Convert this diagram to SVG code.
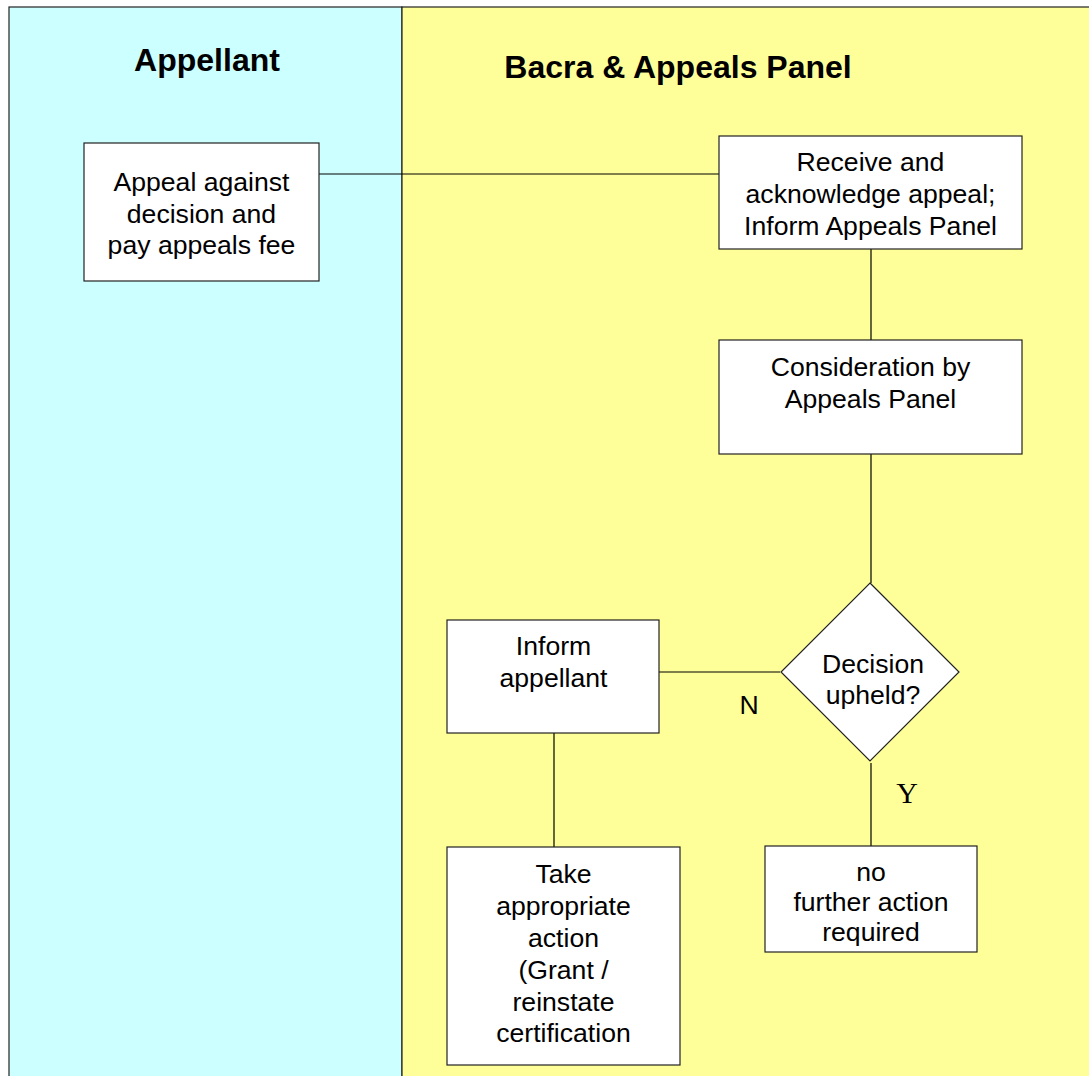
<svg xmlns="http://www.w3.org/2000/svg" width="1089" height="1076" viewBox="0 0 1089 1076">
<style>
.box{fill:#fff;stroke:#222;stroke-width:1.2}
.t{font-family:"Liberation Sans",Arial,sans-serif;font-size:26.6px;fill:#000;text-anchor:middle}
.h{font-family:"Liberation Sans",Arial,sans-serif;font-size:32px;font-weight:bold;fill:#000;text-anchor:middle}
.c{fill:none;stroke:#000;stroke-width:1.2}
</style>
<g id="lanes">
<rect x="9" y="7" width="393" height="1100" fill="#CCFFFF" stroke="#222" stroke-width="1.2"/>
<rect x="402" y="7" width="700" height="1100" fill="#FFFF99" stroke="#222" stroke-width="1.2"/>
<text class="h" x="207" y="71">Appellant</text>
<text class="h" x="678" y="78">Bacra &amp; Appeals Panel</text>
</g>
<g id="connectors">
<line class="c" x1="319" y1="174" x2="719" y2="174"/>
<line class="c" x1="871" y1="249" x2="871" y2="340"/>
<line class="c" x1="871" y1="454" x2="871" y2="583"/>
<line class="c" x1="659" y1="672" x2="780" y2="672"/>
<line class="c" x1="554" y1="733" x2="554" y2="847"/>
<line class="c" x1="871" y1="763" x2="871" y2="846"/>
<text class="t" x="749" y="714">N</text>
<text x="907" y="803" font-family="'Liberation Serif','Times New Roman',serif" font-size="30" text-anchor="middle">Y</text>
</g>
<g id="appeal">
<rect class="box" x="84" y="143" width="235" height="138"/>
<text class="t" x="201.5" y="191">Appeal against</text>
<text class="t" x="201.5" y="222.5">decision and</text>
<text class="t" x="201.5" y="254">pay appeals fee</text>
</g>
<g id="receive">
<rect class="box" x="719" y="136" width="303" height="113"/>
<text class="t" x="870.5" y="171">Receive and</text>
<text class="t" x="870.5" y="203">acknowledge appeal;</text>
<text class="t" x="870.5" y="235">Inform Appeals Panel</text>
</g>
<g id="consideration">
<rect class="box" x="719" y="340" width="303" height="114"/>
<text class="t" x="870.5" y="376">Consideration by</text>
<text class="t" x="870.5" y="407.5">Appeals Panel</text>
</g>
<g id="decision">
<polygon class="box" points="870,583 959,672 870,761 781,672"/>
<text class="t" x="873" y="673">Decision</text>
<text class="t" x="873" y="704">upheld?</text>
</g>
<g id="inform">
<rect class="box" x="447" y="620" width="212" height="113"/>
<text class="t" x="553.5" y="655">Inform</text>
<text class="t" x="553.5" y="687">appellant</text>
</g>
<g id="take-action">
<rect class="box" x="447" y="847" width="233" height="218"/>
<text class="t" x="563.5" y="883">Take</text>
<text class="t" x="563.5" y="915">appropriate</text>
<text class="t" x="563.5" y="947">action</text>
<text class="t" x="563.5" y="979">(Grant /</text>
<text class="t" x="563.5" y="1011">reinstate</text>
<text class="t" x="563.5" y="1042">certification</text>
</g>
<g id="no-action">
<rect class="box" x="765" y="846" width="212" height="106"/>
<text class="t" x="871" y="881">no</text>
<text class="t" x="871" y="911">further action</text>
<text class="t" x="871" y="941">required</text>
</g>
</svg>
